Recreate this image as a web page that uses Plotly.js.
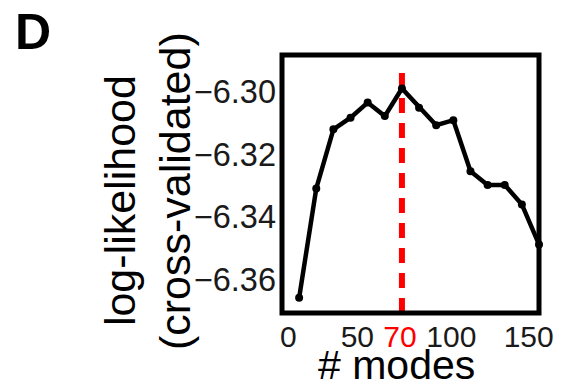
<!DOCTYPE html>
<html>
<head>
<meta charset="utf-8">
<script src="https://cdn.plot.ly/plotly-3.0.1.min.js"></script>
<style>html,body{margin:0;padding:0;background:#fff;}#chart{width:572px;height:390px;}</style>
</head>
<body>
<div id="chart"></div>
<script>
// Data
const modes = [10, 20, 30, 40, 50, 60, 70, 80, 90, 100, 110, 120, 130, 140, 150];
const logLik = [-6.3657, -6.3309, -6.3121, -6.3084, -6.3036, -6.3079, -6.2991, -6.3052, -6.3108, -6.3092, -6.3254, -6.3298, -6.3298, -6.3360, -6.3487];
const bestModes = 70;
const xTickVals = [0, 50, 70, 100, 150];
const NB = '\u00a0';
const xTickText = [NB + NB + '0', '50' + NB + NB, '<span style="color:#ff0000">70</span>', '100', '150' + NB + NB];
const yTickVals = [-6.30, -6.32, -6.34, -6.36];

const FONT = 'Liberation Sans, Arial, Helvetica, sans-serif';

const traces = [
  {
    x: modes, y: logLik, type: 'scatter', mode: 'lines+markers',
    line: {color: '#000', width: 4.5},
    marker: {color: '#000', size: 8},
    cliponaxis: false, hoverinfo: 'none'
  }
];

const layout = {
  width: 572, height: 390,
  margin: {l: 282, r: 33, t: 55, b: 77},
  paper_bgcolor: '#fff', plot_bgcolor: '#fff',
  showlegend: false,
  font: {family: FONT, color: '#000'},
  xaxis: {
    range: [0, 150], showgrid: false, zeroline: false, showline: false,
    ticks: '', tickvals: xTickVals, ticktext: xTickText, tickangle: 0,
    tickfont: {size: 30, color: '#1a1a1a', family: FONT},
    ticklabelshift: -2, ticklabelstandoff: 3
  },
  yaxis: {
    range: [-6.37052, -6.28846], showgrid: false, zeroline: false, showline: false,
    ticks: '', tickvals: yTickVals, tickformat: '.2f',
    tickfont: {size: 32.5, color: '#1a1a1a', family: FONT},
    ticklabelstandoff: 5
  },
  shapes: [
    {type: 'line', xref: 'x', yref: 'paper', x0: bestModes, x1: bestModes, y0: 0, y1: 0.94,
     line: {color: '#ff0000', width: 6, dash: '15px,10px'}, layer: 'below'},
    {type: 'rect', xref: 'paper', yref: 'paper', x0: 0, x1: 1, y0: 0, y1: 1,
     line: {color: '#000', width: 5}, layer: 'above'}
  ],
  annotations: [
    {text: '<b>D</b>', xref: 'paper', yref: 'paper', x: -0.969, y: 1.089,
     xanchor: 'center', yanchor: 'middle', showarrow: false, font: {size: 50, family: FONT, color: '#000'}},
    {text: 'log-likelihood', xref: 'paper', yref: 'paper', x: -0.630, y: 0.434, textangle: -90,
     xanchor: 'center', yanchor: 'middle', showarrow: false, font: {size: 43, family: FONT, color: '#000'}},
    {text: '(cross-validated)', xref: 'paper', yref: 'paper', x: -0.416, y: 0.473, textangle: -90,
     xanchor: 'center', yanchor: 'middle', showarrow: false, font: {size: 43, family: FONT, color: '#000'}},
    {text: '# modes', xref: 'paper', yref: 'paper', x: 0.447, y: -0.2985,
     xanchor: 'center', yanchor: 'bottom', showarrow: false, font: {size: 41, family: FONT, color: '#000'}}
  ]
};

Plotly.newPlot('chart', traces, layout, {displayModeBar: false, staticPlot: true});
</script>
</body>
</html>
